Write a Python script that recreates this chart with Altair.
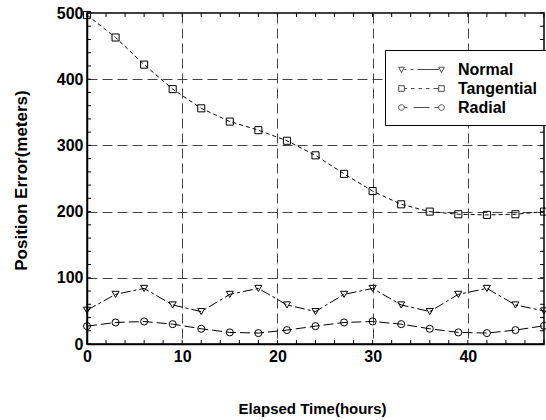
import altair as alt
import pandas as pd

# ---- data ----
hours = [0, 3, 6, 9, 12, 15, 18, 21, 24, 27, 30, 33, 36, 39, 42, 45, 48]
normal = [51, 75, 84, 59, 49, 75, 84, 59, 49, 75, 84, 59, 49, 75, 84, 59, 50]
tangential = [497, 463, 422, 385, 356, 336, 323, 307, 285, 257, 231, 211, 200, 196, 195, 196, 200]
radial = [27, 32.5, 34, 30, 23, 17.5, 16.5, 21, 27, 32.5, 34, 30, 23, 17.5, 16.5, 21, 27.5]
series_names = ["Normal", "Tangential", "Radial"]

x_labels = [0, 10, 20, 30, 40]
y_labels = [0, 100, 200, 300, 400, 500]
x_minor = list(range(0, 49, 2))
y_minor = list(range(0, 501, 20))

W, H = 457, 331
FONT = "Liberation Sans"

rows = []
for name, vals in zip(series_names, [normal, tangential, radial]):
    for h, v in zip(hours, vals):
        rows.append({"hour": h, "value": v, "series": name})
df = pd.DataFrame(rows)
dfx = pd.DataFrame({"hour": x_minor})
dfy = pd.DataFrame({"value": y_minor})

xscale = alt.Scale(domain=[0, 48], nice=False, zero=False)
yscale = alt.Scale(domain=[0, 500], nice=False)

xaxis = alt.Axis(values=x_labels, title="Elapsed Time(hours)", ticks=False,
                 grid=True, gridDash=[10, 5], gridColor="#444", gridWidth=1,
                 labelFont=FONT, labelFontSize=16, labelFontWeight="bold",
                 labelColor="black", labelPadding=4, labelFlush=False,
                 titleFont=FONT, titleFontSize=15, titleFontWeight="bold",
                 titleColor="black", titleBaseline="middle", titleY=64,
                 titleX=225, titleAnchor="middle",
                 domainColor="black", domainWidth=1.5)
yaxis = alt.Axis(values=y_labels, title="Position Error(meters)", ticks=False,
                 grid=True, gridDash=[10, 5], gridColor="#444", gridWidth=1,
                 labelFont=FONT, labelFontSize=16, labelFontWeight="bold",
                 labelColor="black", labelPadding=4, labelFlush=False,
                 titleFont=FONT, titleFontSize=17, titleFontWeight="bold",
                 titleColor="black", titleBaseline="middle", titleX=-66,
                 titleY=167, titleAnchor="middle",
                 domainColor="black", domainWidth=1.5)

X = alt.X("hour:Q", scale=xscale, axis=xaxis)
Y = alt.Y("value:Q", scale=yscale, axis=yaxis)

lines = alt.Chart(df).mark_line(color="black", strokeWidth=1).encode(
    x=X, y=Y,
    strokeDash=alt.StrokeDash("series:N", legend=None,
                              scale=alt.Scale(domain=series_names,
                                              range=[[10, 3, 3, 3], [4, 3], [10, 4]])),
)

points = alt.Chart(df).mark_point(color="black", filled=False, size=50,
                                  strokeWidth=1, opacity=1).encode(
    x=X, y=Y,
    shape=alt.Shape("series:N", legend=None,
                    scale=alt.Scale(domain=series_names,
                                    range=["triangle-down", "square", "circle"])),
)

# custom legend symbols: marker - dashed line - marker (shifted right by SH units)
SH = 1.7
M = 0.28

def tri(cx):
    cx += SH
    return f"M{cx-M},-{M*0.8}L{cx+M},-{M*0.8}L{cx},{M*1.1}Z"

def sq(cx):
    cx += SH
    return f"M{cx-M},-{M}L{cx+M},-{M}L{cx+M},{M}L{cx-M},{M}Z"

def circ(cx):
    cx += SH
    return f"M{cx-M},0A{M},{M} 0 1,0 {cx+M},0A{M},{M} 0 1,0 {cx-M},0Z"

def segs(pairs):
    return "".join(f"M{a+SH},0L{b+SH},0" for a, b in pairs)

p_normal = tri(-2) + segs([(-1.72, -1.5), (-1.1, -0.8), (-0.4, 1.72)]) + tri(2)
p_tang = sq(-2) + segs([(-1.72, -1.45), (-1.05, -0.7), (-0.3, 0.05), (0.45, 0.8), (1.2, 1.72)]) + sq(2)
p_rad = circ(-2) + segs([(-1.72, -1.4), (-0.8, 0.8), (1.3, 1.72)]) + circ(2)

legend_layer = alt.Chart(df).transform_filter("false").mark_point(
    color="black", filled=False, strokeWidth=1).encode(
    x=alt.X("hour:Q", scale=xscale),
    y=alt.Y("value:Q", scale=yscale),
    shape=alt.Shape("series:N",
                    scale=alt.Scale(domain=series_names,
                                    range=[p_normal, p_tang, p_rad]),
                    legend=alt.Legend(title=None, orient="none", legendX=298, legendY=37,
                                      symbolSize=400, symbolStrokeWidth=1,
                                      symbolStrokeColor="black",
                                      labelFont=FONT, labelFontSize=16,
                                      labelFontWeight="bold", labelColor="black",
                                      labelOffset=43, rowPadding=0,
                                      padding=9, fillColor="white",
                                      strokeColor="black", cornerRadius=0)),
)

tick_len = 4
ticks_bottom = alt.Chart(dfx).mark_rule(color="black", strokeWidth=1).encode(
    x=alt.X("hour:Q", scale=xscale), y=alt.value(H), y2=alt.value(H - tick_len))
ticks_top = alt.Chart(dfx).mark_rule(color="black", strokeWidth=1).encode(
    x=alt.X("hour:Q", scale=xscale), y=alt.value(0), y2=alt.value(tick_len))
ticks_left = alt.Chart(dfy).mark_rule(color="black", strokeWidth=1).encode(
    y=alt.Y("value:Q", scale=yscale), x=alt.value(0), x2=alt.value(tick_len))
ticks_right = alt.Chart(dfy).mark_rule(color="black", strokeWidth=1).encode(
    y=alt.Y("value:Q", scale=yscale), x=alt.value(W), x2=alt.value(W - tick_len))

chart = alt.layer(
    lines, points, ticks_bottom, ticks_top, ticks_left, ticks_right, legend_layer
).resolve_scale(shape="independent").properties(
    width=W, height=H,
    autosize=alt.AutoSizeParams(type="none"),
    padding={"left": 87, "top": 13, "right": 2, "bottom": 76},
    background="white",
).configure_view(stroke="black", strokeWidth=1.5)

chart.save("out.html", embed_options={"renderer": "svg", "actions": False})
